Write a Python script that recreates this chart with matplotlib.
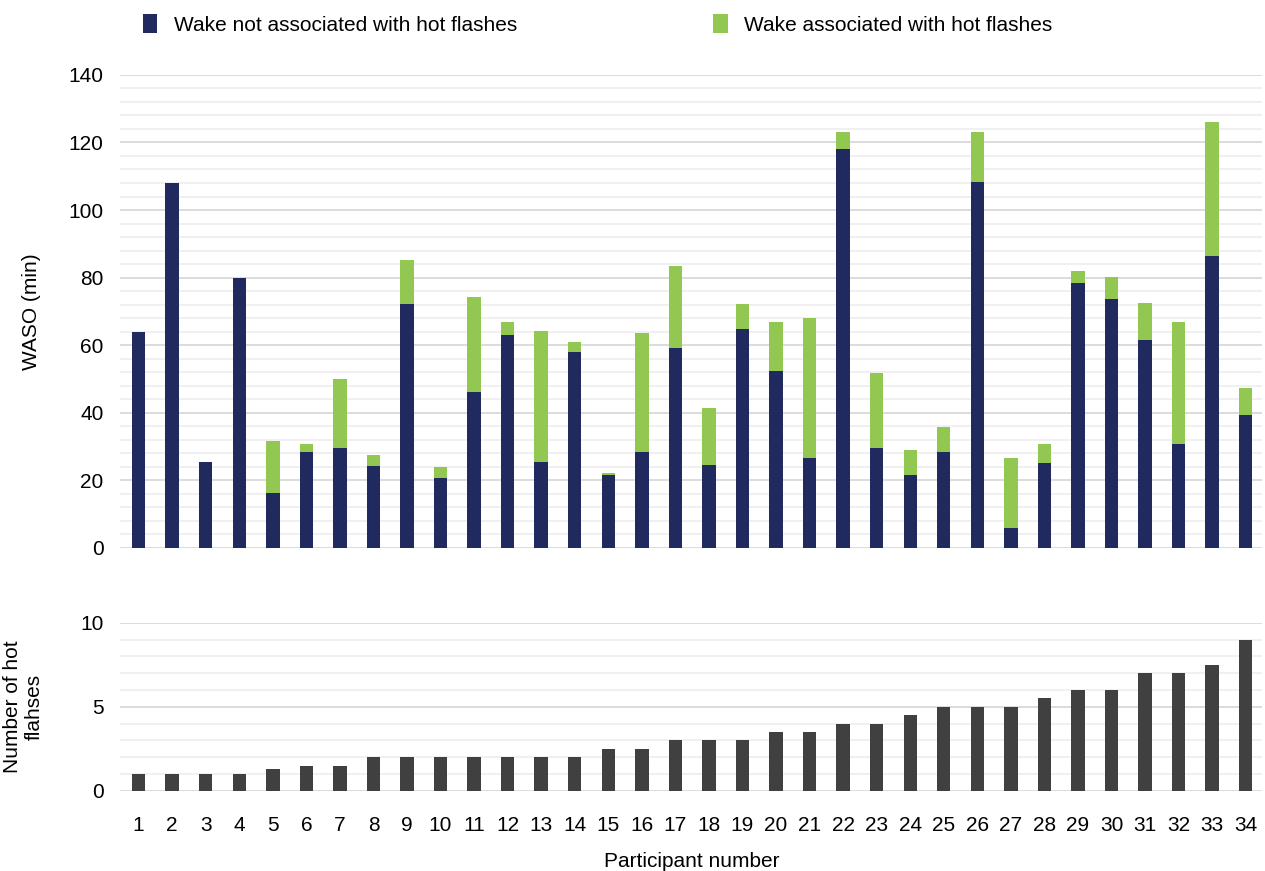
import matplotlib
matplotlib.use('Agg')
import matplotlib.pyplot as plt
import numpy as np

plt.rcParams['font.family'] = ['Liberation Sans', 'DejaVu Sans']

participants = list(range(1, 35))
# wake not associated with hot flashes (min)
waso_not_hf = [64, 108, 25.5, 80, 16.2, 28.5, 29.7, 24.1, 72.2, 20.6, 46.1,
               63.1, 25.5, 58, 21.7, 28.5, 59.1, 24.5, 64.7, 52.3, 26.7,
               118.1, 29.7, 21.7, 28.5, 108.4, 5.8, 25.1, 78.5, 73.8, 61.4,
               30.8, 86.4, 39.4]
# total WASO (top of stacked bar)
waso_total = [64, 108, 25.5, 80, 31.5, 30.8, 50, 27.4, 85.2, 24, 74.4,
              66.9, 64.2, 60.9, 22.1, 63.5, 83.5, 41.5, 72.1, 66.9, 68.1,
              123.2, 51.7, 29, 35.9, 123.2, 26.7, 30.8, 81.9, 80.1, 72.6,
              66.9, 126, 47.3]
n_hot_flashes = [1, 1, 1, 1, 1.3, 1.45, 1.45, 2, 2, 2, 2, 2, 2, 2, 2.5, 2.5,
                 3, 3, 3, 3.5, 3.5, 4, 4, 4.5, 5, 5, 5, 5.5, 6, 6, 7, 7, 7.5, 9]

waso_hf = [t - n for t, n in zip(waso_total, waso_not_hf)]

navy = '#202a5e'
green = '#92c852'
grey = '#404040'
fs = 15

fig = plt.figure(figsize=(12.65, 8.71), dpi=100)
ax1 = fig.add_axes([0.095, 0.371, 0.903, 0.543])
ax2 = fig.add_axes([0.095, 0.092, 0.903, 0.193])

x = np.array(participants)
w = 0.4

b1 = ax1.bar(x, waso_not_hf, w, color=navy, zorder=3, label='Wake not associated with hot flashes')
b2 = ax1.bar(x, waso_hf, w, bottom=waso_not_hf, color=green, zorder=3, label='Wake associated with hot flashes')
ax1.set_ylim(0, 140)
ax1.set_yticks(np.arange(0, 141, 20))
ax1.set_yticks(np.arange(0, 141, 4), minor=True)
ax1.set_ylabel('WASO (min)', fontsize=fs, labelpad=20)

ax2.bar(x, n_hot_flashes, w, color=grey, zorder=3)
ax2.set_ylim(0, 10)
ax2.set_yticks([0, 5, 10])
ax2.set_yticks(np.arange(0, 11, 1), minor=True)
ax2.set_ylabel('Number of hot\nflahses', fontsize=fs, labelpad=26)
ax2.set_xticks(x)
ax2.set_xticklabels([str(p) for p in participants])
ax2.set_xlabel('Participant number', fontsize=fs, labelpad=12)

for ax in (ax1, ax2):
    ax.set_xlim(0.45, 34.5)
    for s in ax.spines.values():
        s.set_visible(False)
    ax.grid(axis='y', which='major', color='#d9d9d9', linewidth=1.3, zorder=0)
    ax.grid(axis='y', which='minor', color='#eeeeee', linewidth=1.2, zorder=0)
    ax.tick_params(axis='y', which='both', length=0, labelsize=fs, pad=12)
    ax.tick_params(axis='x', which='both', length=0, labelsize=fs, pad=18)
ax1.set_xticks([])

fig.legend(handles=[b1, b2], loc='upper left', bbox_to_anchor=(0.098, 1.005), ncol=2,
           frameon=False, fontsize=fs, handlelength=0.7, handleheight=1.0,
           handletextpad=0.8, columnspacing=9.4)

plt.savefig('out.png', dpi=100)
